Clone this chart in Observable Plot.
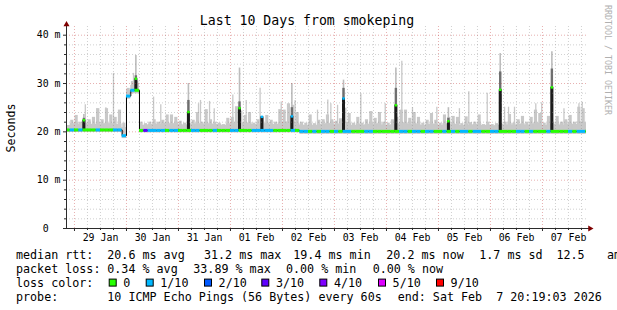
<!DOCTYPE html>
<html><head><meta charset="utf-8">
<script src="https://cdn.jsdelivr.net/npm/d3@7"></script>
<script src="https://cdn.jsdelivr.net/npm/@observablehq/plot@0.6"></script>
<style>
body{margin:0;background:#fff;}
#wrap{position:relative;width:617px;height:310px;overflow:hidden;background:#fff;}
#wrap svg{position:absolute;left:0;top:0;}
</style></head><body><div id="wrap"></div>
<script>
// ---- time frame ----
const START = new Date("2026-01-28T20:19:03Z");
const END = new Date("2026-02-07T20:19:03Z");
const BIN0 = new Date("2026-01-28T20:00:00Z");
const BIN_HOURS = 2;

// ---- per 2-hour bin values (ms) ----
const median = [
20.4,20.4,20.4,20.4,20.4,20.4,20.4,20.4,20.4,20.4,
20.4,20.4,20.4,19.2,27.4,28.6,28.6,20.3,20.3,20.3,
20.3,20.3,20.3,20.3,20.3,20.3,20.3,20.3,20.3,20.3,
20.3,20.3,20.3,20.3,20.3,20.3,20.3,20.3,20.3,20.3,
20.3,20.3,20.3,20.3,20.3,20.3,20.3,20.3,20.3,20.3,
20.3,20.3,20.3,20.3,20.1,20.1,20.1,20.1,20.1,20.1,
20.1,20.1,20.1,20.1,20.1,20.1,20.1,20.1,20.1,20.1,
20.1,20.1,20.1,20.1,20.1,20.1,20.1,20.1,20.1,20.1,
20.1,20.1,20.1,20.1,20.1,20.1,20.1,20.1,20.1,20.1,
20.1,20.1,20.1,20.1,20.1,20.1,20.1,20.1,20.1,20.1,
20.1,20.1,20.1,20.1,20.1,20.1,20.1,20.1,20.1,20.1,
20.1,20.1,20.1,20.1,20.1,20.1,20.1,20.1,20.1,20.1,20.1];
const loss = [
0,1,0,1,0,0,0,1,0,0, 0,1,1,1,1,1,0,0,3,1, 1,1,1,0,1,1,0,0,0,1,
1,0,0,0,1,0,0,0,1,1, 0,0,0,1,1,1,1,1,0,0, 0,0,1,0,1,1,0,1,0,1,
1,0,1,0,1,1,0,0,0,1, 1,0,0,0,0,0,0,1,1,0, 1,1,0,1,1,0,0,1,0,1,
0,1,1,0,1,1,0,0,1,1, 0,0,0,0,1,1,0,1,0,0, 0,1,0,0,0,0,1,0,1,1,0];
const smokeLow = [
19.9,19.9,19.9,19.9,19.9,19.9,19.9,19.9,19.9,19.9,
19.9,19.9,19.9,18.6,26.8,27.9,27.9,19.8,19.8,19.8,
19.8,19.8,19.8,19.8,19.8,19.8,19.8,19.8,19.8,19.8,
19.8,19.8,19.8,19.8,19.8,19.8,19.8,19.8,19.8,19.8,
19.8,19.8,19.8,19.8,19.8,19.8,19.8,19.8,19.8,19.8,
19.8,19.8,19.8,19.8,19.5,19.5,19.5,19.5,19.5,19.5,
19.5,19.5,19.5,19.5,19.5,19.5,19.5,19.5,19.5,19.5,
19.5,19.5,19.5,19.5,19.5,19.5,19.5,19.5,19.5,19.5,
19.5,19.5,19.5,19.5,19.5,19.5,19.5,19.5,19.5,19.5,
19.5,19.5,19.5,19.5,19.5,19.5,19.5,19.5,19.5,19.5,
19.5,19.5,19.5,19.5,19.5,19.5,19.5,19.5,19.5,19.5,
19.5,19.5,19.5,19.5,19.5,19.5,19.5,19.5,19.5,19.5,19.5];
const smokeMid = [
21.3,21.7,21.9,21.6,21.8,21.7,21.5,21.9,21.6,21.8,
21.7,21.5,21.6,20.9,28.6,29.6,29.8,21.3,21.4,21.5,
21.7,21.6,21.8,21.9,21.7,21.8,21.5,21.4,21.7,21.6,
21.8,21.6,21.9,21.7,21.5,21.5,21.3,21.7,21.8,22.0,
21.9,21.8,21.9,21.5,21.6,21.7,21.8,21.6,21.5,21.9,
22.0,22.1,22.0,21.8,21.4,21.3,21.7,21.3,21.5,21.6,
21.8,21.7,21.5,21.7,22.0,21.8,21.3,21.6,21.3,21.5,
21.8,21.6,21.8,21.4,21.3,21.5,21.7,21.9,21.9,21.6,
21.8,21.6,21.3,21.5,21.7,21.5,21.3,21.7,21.6,21.7,
21.5,21.3,21.6,21.4,21.5,21.7,21.3,21.4,21.2,21.3,
21.5,21.4,21.8,21.4,21.5,21.7,21.4,21.6,21.9,21.8,
21.3,21.7,21.5,21.7,21.4,21.6,21.8,21.5,22.1,22.0,21.8];
const smokeHigh = [
21.2,22.4,23.4,22.0,22.5,22.5,23.0,24.8,22.5,24.8,
23.5,23.0,24.5,21.8,29.0,30.4,30.5,22.0,21.7,22.0,
22.5,22.0,22.4,23.5,23.5,23.0,22.2,21.8,22.5,22.4,
24.0,22.0,24.6,22.5,22.0,21.8,21.5,22.8,23.0,25.2,
24.3,23.4,24.0,21.8,22.5,22.8,23.4,22.4,22.0,24.6,
24.5,25.8,25.5,24.0,22.0,21.8,23.5,21.7,22.4,22.5,
23.5,22.5,22.2,22.7,24.9,23.8,21.8,23.0,21.8,22.5,
24.2,22.8,24.0,22.0,21.8,22.5,23.0,24.5,24.5,22.8,
24.0,23.0,21.8,22.4,23.8,22.4,21.8,23.5,23.0,23.2,
23.0,21.7,23.1,21.9,22.0,23.5,21.5,22.0,21.5,21.7,
22.0,22.0,23.6,21.8,22.5,23.2,22.0,23.0,24.5,23.8,
21.8,23.2,22.0,23.2,22.0,22.5,23.4,22.0,25.1,24.8,23.4];

// ---- thin smoke peaks ----
const peakTimes = ["2026-01-29T05:00Z","2026-01-29T10:20Z","2026-01-29T14:30Z","2026-01-29T18:00Z",
"2026-01-30T03:15Z","2026-01-30T12:30Z","2026-01-30T15:50Z","2026-01-31T09:15Z","2026-01-31T10:10Z",
"2026-01-31T14:20Z","2026-01-31T16:30Z","2026-02-01T01:05Z","2026-02-01T07:15Z","2026-02-01T13:40Z",
"2026-02-01T23:25Z","2026-02-02T05:50Z","2026-02-02T16:10Z","2026-02-02T20:55Z","2026-02-02T22:20Z",
"2026-02-03T01:25Z","2026-02-03T12:10Z","2026-02-03T23:25Z","2026-02-04T07:05Z","2026-02-04T12:00Z",
"2026-02-04T23:15Z","2026-02-05T09:40Z","2026-02-05T14:00Z","2026-02-05T22:30Z","2026-02-06T06:30Z",
"2026-02-06T08:20Z","2026-02-06T11:05Z","2026-02-06T20:55Z","2026-02-06T23:40Z","2026-02-07T09:55Z",
"2026-02-07T16:50Z","2026-02-07T18:20Z"];
const peakValues = [25.6,24.8,25.0,32.1,32.1,27.2,25.6,25.8,26.5,26.3,24.8,27.6,26.5,29.0,26.2,26.5,24.5,
26.6,25.8,25.5,27.9,25.8,34.6,25.0,25.1,24.8,28.3,28.0,25.1,25.1,25.1,25.8,26.0,24.8,25.8,26.1];

// ---- daily dense spikes ----
const spikeTimes = ["2026-01-29T04:20Z","2026-01-30T04:20Z","2026-01-31T04:35Z","2026-02-01T04:10Z",
"2026-02-01T14:30Z","2026-02-02T04:20Z","2026-02-03T04:10Z","2026-02-04T04:20Z","2026-02-05T04:35Z",
"2026-02-06T04:30Z","2026-02-07T04:20Z"];
const spikeTop  = [22.4,31.0,24.1,24.9,23.1,23.2,26.9,25.5,22.2,28.7,29.2];
const spikeDark = [22.8,31.6,26.5,26.2,23.1,25.0,29.0,29.0,22.8,32.4,33.0];
const spikeGray = [23.6,35.8,30.0,33.2,23.1,30.0,30.7,33.2,25.0,36.2,36.6];
const spikeLoss = [0,0,0,0,1,1,1,0,0,0,0];

// ---- axes ----
const yTicks = [0,10,20,30,40];
const yTickLabels = ["0\u00a0\u00a0","10 m","20 m","30 m","40 m"];
const dayLabelDates = ["2026-01-29T12:00Z","2026-01-30T12:00Z","2026-01-31T12:00Z","2026-02-01T12:00Z",
"2026-02-02T12:00Z","2026-02-03T12:00Z","2026-02-04T12:00Z","2026-02-05T12:00Z","2026-02-06T12:00Z","2026-02-07T12:00Z"];
const dayLabels = ["29 Jan","30 Jan","31 Jan","01 Feb","02 Feb","03 Feb","04 Feb","05 Feb","06 Feb","07 Feb"];

// ---- legend ----
const title = "Last 10 Days from smokeping";
const lossKeys = [0,1,2,3,4,5,9];
const lossLabels = ["0","1/10","2/10","3/10","4/10","5/10","9/10"];
const lossColorList = ["#26ff00","#00b8ff","#0059ff","#5e00ff","#7e00ff","#dd00ff","#ff0000"];
const legendRows = [
  [["median rtt:",16],["20.6 ms avg",107.3],["31.2 ms max",204],["19.4 ms min",293.3],["20.2 ms now",386.3],["1.7 ms sd",479.3],["12.5",556.5],["am/s",607]],
  [["packet loss:",16],["0.34 % avg",107.3],["33.89 % max",193.3],["0.00 % min",286],["0.00 % now",372.7]],
  [["loss color:",16]],
  [["probe:",16],["10 ICMP Echo Pings (56 Bytes) every 60s",107.3],["end: Sat Feb  7 20:19:03 2026",397.7]]
];
const swatchX = [108.7,145.7,204,261.3,319.3,378,436];
const rowBaselines = [258.6,272.6,286.6,301];

// ---- build data ----
const H = 3600*1000;
const lossColor = new Map(lossKeys.map((k,i)=>[k,lossColorList[i]]));
const bins = median.map((m,i)=>({
  start:new Date(+BIN0 + i*BIN_HOURS*H), end:new Date(+BIN0 + (i+1)*BIN_HOURS*H),
  median:m, loss:loss[i], low:smokeLow[i], mid:smokeMid[i], high:smokeHigh[i]}));
const last = bins[bins.length-1];
const binsClosed = bins.concat([{...last, start: END}]);
const binAt = t => bins[Math.floor((t - BIN0)/(BIN_HOURS*H))];
const peaks = peakTimes.map((t,i)=>{const d=new Date(t); return {time:d, value:peakValues[i], base:binAt(d).mid};});
const spikes = spikeTimes.map((t,i)=>{const d=new Date(t); return {time:d, base:binAt(d).median,
  top:spikeTop[i], dark:spikeDark[i], gray:spikeGray[i], color:lossColor.get(spikeLoss[i])};});

const hours6 = d3.utcHour.every(6).range(START, END).filter(d=>d.getUTCHours()!==0);
const days = d3.utcDay.range(START, END);
const yMinor = d3.range(2, 41, 2).filter(v=>v%10!==0);
const yLabel = new Map(yTicks.map((v,i)=>[v,yTickLabels[i]]));
const xLabel = new Map(dayLabelDates.map((d,i)=>[+new Date(d), dayLabels[i]]));
const labelDates = dayLabelDates.map(d=>new Date(d));

const SMOKE = "#c8c8c8";
const minorGrid = {stroke:"#8c8c8c", strokeOpacity:0.4, strokeDasharray:"1,2"};
const majorGrid = {stroke:"#c03030", strokeOpacity:0.38, strokeDasharray:"1,2"};
const AX = "#2b2b2b";

const chart = Plot.plot({
  width:617, height:310,
  marginLeft:66, marginRight:31, marginTop:26, marginBottom:82,
  x:{type:"utc", domain:[START, END], label:null},
  y:{domain:[0,41.8], label:null},
  color:{type:"identity"},
  style:{fontFamily:"DejaVu Sans Mono", fontSize:"9.9px", color:"#000", background:"transparent"},
  marks:[
    Plot.areaY(binsClosed, {x:"start", y1:"low", y2:"mid", curve:"step-after", fill:SMOKE, clip:true}),
    Plot.rect(bins, {x1:"start", x2:"end", y1:"low", y2:"high", insetLeft:0.6, insetRight:0.6, fill:SMOKE, clip:true}),
    Plot.ruleX(peaks, {x:"time", y1:"base", y2:"value", stroke:SMOKE, strokeWidth:1.3}),
    Plot.ruleX(spikes, {x:"time", y1:"base", y2:"gray", stroke:"#bcbcbc", strokeWidth:1.6}),
    Plot.ruleX(spikes, {x:"time", y1:"base", y2:"dark", stroke:"#6e6e6e", strokeWidth:2.4}),
    Plot.ruleX(spikes, {x:"time", y1:"base", y2:"top", stroke:"#1c1c1c", strokeWidth:3}),
    Plot.gridX(hours6, minorGrid),
    Plot.gridY(yMinor, minorGrid),
    Plot.gridX(days, majorGrid),
    Plot.gridY(yTicks.filter(v=>v>0), majorGrid),
    Plot.line(binsClosed, {x:"start", y:"median", curve:"step-after", stroke:"#000", strokeWidth:1, clip:true}),
    Plot.ruleY(bins, {x1:"start", x2:"end", y:"median", stroke:d=>lossColor.get(d.loss), strokeWidth:3, clip:true}),
    Plot.dot(spikes, {x:"time", y:"top", symbol:"square", r:1.4, fill:"color"}),
    Plot.frame({anchor:"left", stroke:AX}),
    Plot.frame({anchor:"bottom", stroke:AX, insetLeft:-3, insetRight:-4}),
    Plot.axisY(yTicks, {tickSize:3, tickPadding:3, stroke:AX, tickFormat:d=>yLabel.get(d), fontFamily:"DejaVu Sans Mono", fontSize:9.9, label:null}),
    Plot.axisY(yMinor, {tickSize:2, stroke:AX, tickFormat:()=>"", label:null}),
    Plot.axisX(labelDates, {tickSize:0, tickPadding:5.5, tickFormat:d=>xLabel.get(+d), fontFamily:"DejaVu Sans Mono", fontSize:9.9, label:null}),
    Plot.axisX(days, {tickSize:3, stroke:AX, tickFormat:()=>"", label:null}),
    Plot.axisX(hours6, {tickSize:2, stroke:AX, tickFormat:()=>"", label:null}),
    Plot.dot([START], {x:d=>d, y:()=>41.8, symbol:"triangle", r:2.25, fill:"#7f0000", dy:-2}),
    Plot.dot([END], {x:d=>d, y:()=>0, symbol:"triangle", r:2.25, fill:"#7f0000", rotate:90, dx:3.5})
  ]
});
document.getElementById("wrap").appendChild(chart);

// ---- overlay: title, y label, watermark, legend ----
const ov = d3.select("#wrap").append("svg")
  .attr("width",617).attr("height",310)
  .style("font-family","'DejaVu Sans Mono'").style("pointer-events","none");
ov.append("text").attr("x",307).attr("y",24.5).attr("text-anchor","middle")
  .attr("font-size",13.2).attr("fill","#000").text(title);
ov.append("text").attr("transform","translate(15,128) rotate(-90)").attr("text-anchor","middle")
  .attr("font-size",11.6).attr("fill","#000").text("Seconds");
ov.append("text").attr("transform","translate(604.5,5) rotate(90)").attr("text-anchor","start")
  .attr("font-size",8.3).attr("fill","#b0b0b0").text("RRDTOOL / TOBI OETIKER");
legendRows.forEach((row,r)=>{
  row.forEach(([txt,x])=>{
    ov.append("text").attr("x",x).attr("y",rowBaselines[r]).attr("font-size",11.7)
      .attr("fill","#000").attr("xml:space","preserve").style("white-space","pre").text(txt);
  });
});
lossLabels.forEach((lab,i)=>{
  ov.append("rect").attr("x",swatchX[i]+0.5).attr("y",rowBaselines[2]-7.5).attr("width",7).attr("height",7)
    .attr("fill",lossColorList[i]).attr("stroke","#000").attr("stroke-width",1);
  ov.append("text").attr("x",swatchX[i]+14.6).attr("y",rowBaselines[2]).attr("font-size",11.7)
    .attr("fill","#000").text(lab);
});
</script></body></html>
